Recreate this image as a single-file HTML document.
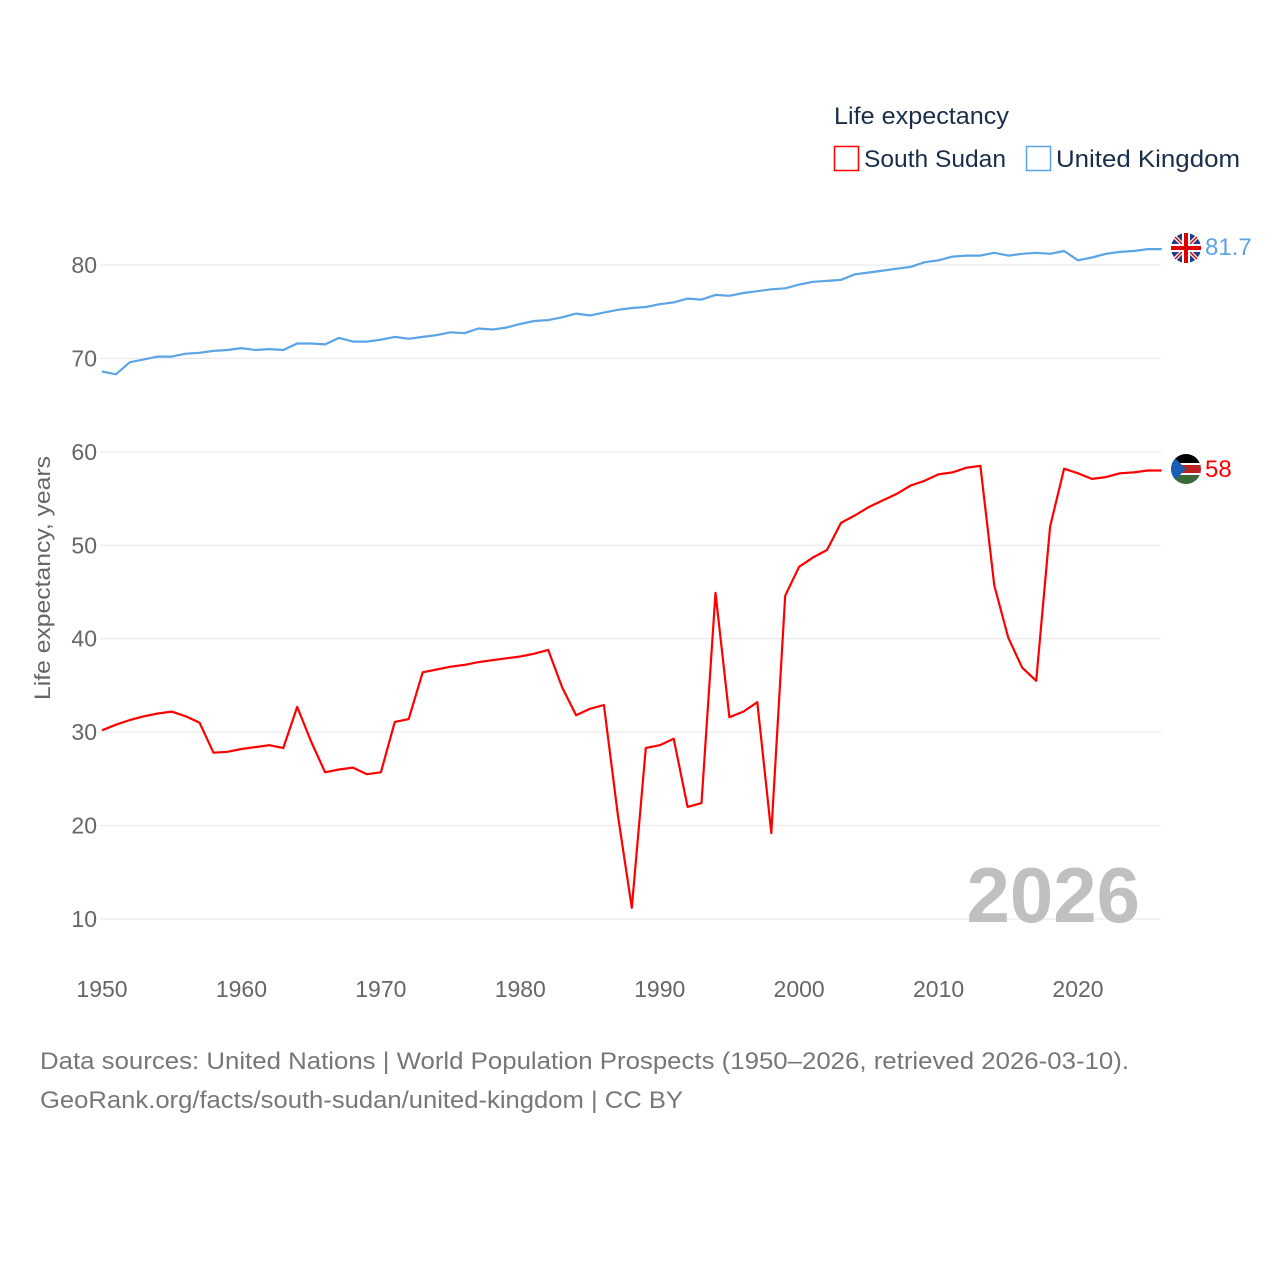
<!DOCTYPE html>
<html><head><meta charset="utf-8">
<style>
html,body{margin:0;padding:0;background:#fff;}
svg{display:block;font-family:"Liberation Sans",sans-serif;}
</style></head>
<body>
<svg id="chart" width="1280" height="1280" viewBox="0 0 1280 1280">
<g id="grid"></g>
<g id="yticks"></g>
<g id="xticks"></g>
<text x="50" y="578" transform="rotate(-90 50 578)" text-anchor="middle" font-size="22" fill="#666" textLength="244" lengthAdjust="spacingAndGlyphs">Life expectancy, years</text>
<text x="1140" y="922" text-anchor="end" font-size="78" font-weight="bold" fill="#c0c0c0">2026</text>
<g id="series"></g>
<text x="834" y="124" font-size="24" fill="#1a2e4a" textLength="175" lengthAdjust="spacingAndGlyphs">Life expectancy</text>
<g>
<rect x="834.5" y="146.5" width="24" height="24" fill="none" stroke="#ff0000" stroke-width="1.5"/>
<text x="864" y="167" font-size="24" fill="#1a2e4a" textLength="142" lengthAdjust="spacingAndGlyphs">South Sudan</text></g>
<g>
<rect x="1026.5" y="146.5" width="24" height="24" fill="none" stroke="#5ba4e6" stroke-width="1.5"/>
<text x="1056" y="167" font-size="24" fill="#1a2e4a" textLength="184" lengthAdjust="spacingAndGlyphs">United Kingdom</text></g>
<g>
<circle cx="1186" cy="248" r="15" fill="#1f3a8a"/>
<line x1="1175" y1="237" x2="1197" y2="259" stroke="#fff" stroke-width="4"/>
<line x1="1197" y1="237" x2="1175" y2="259" stroke="#fff" stroke-width="4"/>
<line x1="1175" y1="237" x2="1197" y2="259" stroke="#d00" stroke-width="1.5"/>
<line x1="1197" y1="237" x2="1175" y2="259" stroke="#d00" stroke-width="1.5"/>
<rect x="1171" y="244" width="30" height="8" fill="#fff"/><rect x="1182" y="233" width="8" height="30" fill="#fff"/>
<rect x="1171" y="246" width="30" height="4" fill="#d00"/><rect x="1184" y="233" width="4" height="30" fill="#d00"/></g>
<g>
<clipPath id="cc"><circle cx="1186" cy="469" r="15"/></clipPath>
<g clip-path="url(#cc)">
<rect x="1171" y="454" width="30" height="10" fill="#000"/>
<rect x="1171" y="464" width="30" height="10" fill="#b22"/>
<rect x="1171" y="474" width="30" height="11" fill="#3a6b35"/>
<rect x="1171" y="463" width="30" height="2" fill="#fff"/><rect x="1171" y="473" width="30" height="2" fill="#fff"/>
<polygon points="1171,454 1186,469 1171,484" fill="#1a5fb4"/></g></g>
<text x="1205" y="255" font-size="24" fill="#5ba4e6">81.7</text>
<text x="1205" y="477" font-size="24" fill="#ff0000">58</text>
<text x="40" y="1069" font-size="24" fill="#777" textLength="1089" lengthAdjust="spacingAndGlyphs">Data sources: United Nations | World Population Prospects (1950–2026, retrieved 2026-03-10).</text>
<text x="40" y="1108" font-size="24" fill="#777" textLength="643" lengthAdjust="spacingAndGlyphs">GeoRank.org/facts/south-sudan/united-kingdom | CC BY</text>
</svg>
<script>
const years = [];
for (let y = 1950; y <= 2026; y++) years.push(y);
const ukValues = [68.6,68.3,69.6,69.9,70.2,70.2,70.5,70.6,70.8,70.9,71.1,70.9,71.0,70.9,71.6,71.6,71.5,72.2,71.8,71.8,72.0,72.3,72.1,72.3,72.5,72.8,72.7,73.2,73.1,73.3,73.7,74.0,74.1,74.4,74.8,74.6,74.9,75.2,75.4,75.5,75.8,76.0,76.4,76.3,76.8,76.7,77.0,77.2,77.4,77.5,77.9,78.2,78.3,78.4,79.0,79.2,79.4,79.6,79.8,80.3,80.5,80.9,81.0,81.0,81.3,81.0,81.2,81.3,81.2,81.5,80.5,80.8,81.2,81.4,81.5,81.7,81.7];
const ssValues = [30.2,30.8,31.3,31.7,32.0,32.2,31.7,31.0,27.8,27.9,28.2,28.4,28.6,28.3,32.7,29.0,25.7,26.0,26.2,25.5,25.7,31.1,31.4,36.4,36.7,37.0,37.2,37.5,37.7,37.9,38.1,38.4,38.8,34.8,31.8,32.5,32.9,21.1,11.2,28.3,28.6,29.3,22.0,22.4,44.9,31.6,32.2,33.2,19.2,44.6,47.7,48.7,49.5,52.4,53.2,54.1,54.8,55.5,56.4,56.9,57.6,57.8,58.3,58.5,45.7,40.1,36.9,35.5,52.0,58.2,57.7,57.1,57.3,57.7,57.8,58.0,58.0];
const yTicks = [10,20,30,40,50,60,70,80];
const xTicks = [1950,1960,1970,1980,1990,2000,2010,2020];
const NS = "http://www.w3.org/2000/svg";
function xS(yr){ return 102 + (yr-1950)*(976/70); }
function yS(v){ return 919 - (v-10)*9.343; }
function mk(tag, attrs, parent){ const e=document.createElementNS(NS,tag); for(const k in attrs) e.setAttribute(k,attrs[k]); parent.appendChild(e); return e; }
const grid=document.getElementById('grid'), yt=document.getElementById('yticks'), xt=document.getElementById('xticks'), ser=document.getElementById('series');
yTicks.forEach(v=>{
  const l=mk('line',{x1:100,x2:1161,y1:yS(v),y2:yS(v),stroke:'#e6e6e6','stroke-width':1},grid);
  
  
  const t=mk('text',{x:97,y:yS(v)+8,'text-anchor':'end','font-size':23,fill:'#666'},yt);
  t.textContent=v;
  
  
});
xTicks.forEach(v=>{
  const t=mk('text',{x:xS(v),y:997,'text-anchor':'middle','font-size':23,fill:'#666'},xt);
  t.textContent=v;
  
  
});
function line(vals,color,name){
  const d=vals.map((v,i)=>(i?'L':'M')+xS(years[i]).toFixed(1)+','+yS(v).toFixed(1)).join('');
  const p=mk('path',{d:d,fill:'none',stroke:color,'stroke-width':2.2,'stroke-linejoin':'round'},ser);
  
  
}
line(ukValues,'#5ba4e6','line-united-kingdom');
line(ssValues,'#ff0000','line-south-sudan');
</script>
</body></html>
